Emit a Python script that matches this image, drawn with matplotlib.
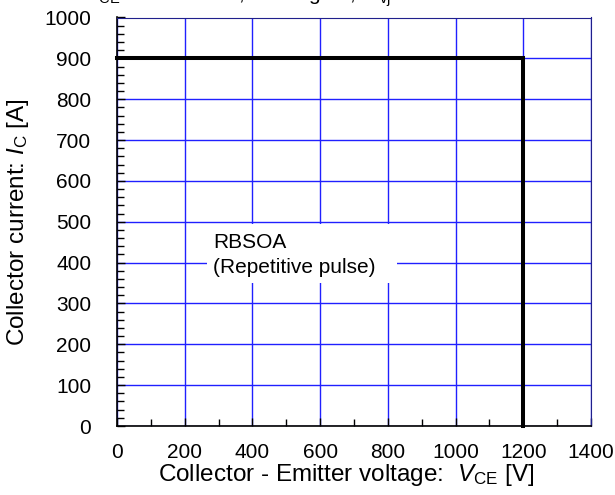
import matplotlib
matplotlib.use("Agg")
import matplotlib.pyplot as plt
from matplotlib.ticker import MultipleLocator
from matplotlib.patches import Rectangle

plt.rcParams['font.family'] = ['Liberation Sans', 'DejaVu Sans']
plt.rcParams['mathtext.fontset'] = 'custom'
plt.rcParams['mathtext.rm'] = 'Liberation Sans'
plt.rcParams['mathtext.it'] = 'Liberation Sans:italic'
plt.rcParams['xtick.major.pad'] = 12
plt.rcParams['ytick.major.pad'] = 18.5
plt.rcParams['xtick.direction'] = 'in'
plt.rcParams['ytick.direction'] = 'in'

# RBSOA boundary
vce = [0, 1200, 1200]
ic = [900, 900, 0]

x_ticks = [0, 200, 400, 600, 800, 1000, 1200, 1400]
y_ticks = [0, 100, 200, 300, 400, 500, 600, 700, 800, 900, 1000]

fig = plt.figure(figsize=(6.15, 4.95), dpi=100)
ax = fig.add_axes([117/615, (495-426)/495, (591-117)/615, (426-17.5)/495])

ax.set_xlim(0, 1400)
ax.set_ylim(0, 1000)
ax.set_xticks(x_ticks)
ax.set_yticks(y_ticks)
ax.xaxis.set_minor_locator(MultipleLocator(100))
ax.yaxis.set_minor_locator(MultipleLocator(20))
ax.tick_params(which='both', labelsize=15, top=False, right=False)
ax.tick_params(which='major', length=6, width=1)
ax.tick_params(which='minor', length=5, width=1)
ax.xaxis.set_tick_params(which='major', pad=12)
ax.yaxis.set_tick_params(which='major', pad=18.5)

ax.grid(True, which='major', color='#2020ff', lw=1.0)
ax.set_axisbelow(True)
for s in ['top', 'right']:
    ax.spines[s].set_color('#20208c')
for s in ['left', 'bottom']:
    ax.spines[s].set_color('black')
    ax.spines[s].set_linewidth(1.2)

ax.add_patch(Rectangle((266, 350), 827-266, 495-350, facecolor='white', edgecolor='none', zorder=1.5))
ax.text(283, 450, 'RBSOA', fontsize=15, va='center', ha='left', zorder=3)
ax.text(283, 389, '(Repetitive pulse)', fontsize=15, va='center', ha='left', zorder=3)

ax.plot(vce, ic, color='black', lw=2.9, zorder=4, clip_on=False, solid_joinstyle='miter')

ax.set_xlabel(r'Collector - Emitter voltage:  $\mathit{V}_{\mathrm{CE}}$ [V]', fontsize=17.5)
ax.xaxis.set_label_coords(0.484, -0.089)
ax.set_ylabel(r'Collector current: $\mathit{I}_{\mathrm{C}}$ [A]', fontsize=17.5)
ax.yaxis.set_label_coords(-(117-31)/474, 0.5)

fig.text(85/615, 1 - 1/495, r'$\mathit{V}_{\mathrm{CE}}$: 0 to 1200 V, Turning off,  $\mathit{T}_{\mathrm{vj}}$ = 150 °C',
         fontsize=15, ha='left', va='baseline')

fig.savefig('out.png', dpi=100)
